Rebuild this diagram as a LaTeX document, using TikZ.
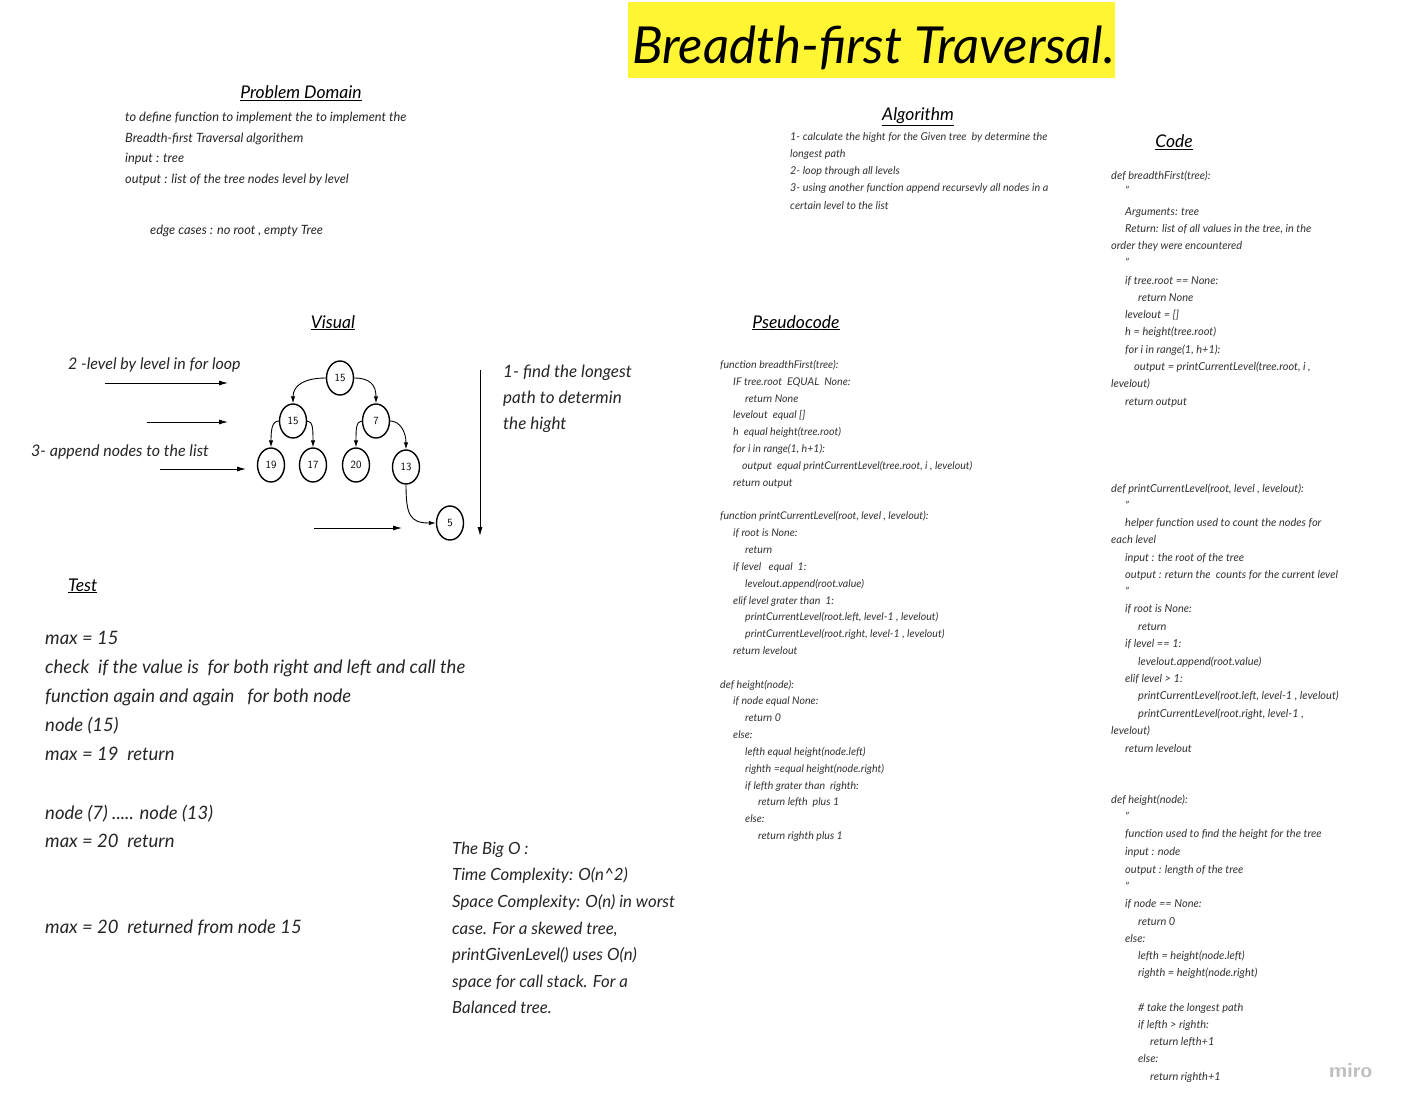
\documentclass[tikz,border=0pt]{standalone}
\usepackage{fontspec}
\setmainfont{Lato}
\usetikzlibrary{arrows.meta,shapes.geometric}
\newcommand\mytl[5]{\node[anchor=base west,inner sep=0pt,#1] (#2) at (#3) {#4#5};}
\begin{document}
\begin{tikzpicture}[x=1pt,y=-1pt,
  hd/.style={font=\fontsize{17.5}{20}\selectfont\itshape,inner sep=0pt,anchor=base},
  cd/.style={font=\fontsize{11}{12}\selectfont\itshape\color{black!80}},
  al/.style={font=\fontsize{10.8}{12}\selectfont\itshape\color{black!80}},
  ps/.style={font=\fontsize{10.6}{12}\selectfont\itshape\color{black!80}},
  pd/.style={font=\fontsize{12.8}{14}\selectfont\itshape\color{black!85}},
  tst/.style={font=\fontsize{18.5}{20}\selectfont\itshape\color{black!85}},
  bo/.style={font=\fontsize{16.8}{18}\selectfont\itshape\color{black!85}},
  vl/.style={font=\fontsize{16}{18}\selectfont\itshape\color{black!85}},
  tn/.style={draw,line width=1.4pt,ellipse,minimum width=27pt,minimum height=34pt,inner sep=0pt,font=\fontsize{11}{12}\selectfont\sffamily},
  ar/.style={line width=0.9pt,-{Latex[length=9pt,width=5pt]}},
  ed/.style={line width=0.9pt,-{Latex[length=7pt,width=4.5pt]}}]
\useasboundingbox (0,0) rectangle (1407,1110);
\fill[white] (0,0) rectangle (1407,1110);
% title
\fill[yellow!80!white] (628,2) rectangle (1115,78);
\node[anchor=base west,inner sep=0pt,font=\fontsize{51}{56}\selectfont\itshape] (title) at (632,64) {Breadth-first Traversal.};
% problem domain
\node[hd] (pdh) at (301,99) {\underline{Problem Domain}};
\mytl{pd}{p1}{125,122}{}{to define function to implement the to implement the}
\mytl{pd}{p2}{125,143}{}{Breadth-first Traversal algorithem}
\mytl{pd}{p3}{125,163}{}{input : tree}
\mytl{pd}{p4}{125,184}{}{output : list of the tree nodes level by level}
\mytl{pd}{p5}{150,234}{}{edge cases : no root , empty Tree}
% algorithm
\node[hd] (alh) at (918,121) {\underline{Algorithm}};
\mytl{al}{a1}{790,141}{}{1- calculate the hight for the Given tree \ by determine the}
\mytl{al}{a2}{790,158}{}{longest path}
\mytl{al}{a3}{790,175}{}{2- loop through all levels}
\mytl{al}{a4}{790,192}{}{3- using another function append recursevly all nodes in a}
\mytl{al}{a5}{790,209}{}{certain level to the list}
% code
\node[hd] (cdh) at (1174,148) {\underline{Code}};
\mytl{cd}{c1}{1111,179}{}{def breadthFirst(tree):}
\mytl{cd}{c2}{1125,195}{}{"}
\mytl{cd}{c3}{1125,215}{}{Arguments: tree}
\mytl{cd}{c4}{1125,232}{}{Return: list of all values in the tree, in the}
\mytl{cd}{c5}{1111,249}{}{order they were encountered}
\mytl{cd}{c6}{1125,266}{}{"}
\mytl{cd}{c7}{1125,284}{}{if tree.root == None:}
\mytl{cd}{c8}{1138,301}{}{return None}
\mytl{cd}{c9}{1125,318}{}{levelout = []}
\mytl{cd}{c10}{1125,335}{}{h = height(tree.root)}
\mytl{cd}{c11}{1125,353}{}{for i in range(1, h+1):}
\mytl{cd}{c12}{1134,370}{}{output = printCurrentLevel(tree.root, i ,}
\mytl{cd}{c13}{1111,387}{}{levelout)}
\mytl{cd}{c14}{1125,405}{}{return output}
\mytl{cd}{d1}{1111,492}{}{def printCurrentLevel(root, level , levelout):}
\mytl{cd}{d2}{1125,509}{}{"}
\mytl{cd}{d3}{1125,526}{}{helper function used to count the nodes for}
\mytl{cd}{d4}{1111,543}{}{each level}
\mytl{cd}{d5}{1125,561}{}{input : the root of the tree}
\mytl{cd}{d6}{1125,578}{}{output : return the \ counts for the current level}
\mytl{cd}{d7}{1125,595}{}{"}
\mytl{cd}{d8}{1125,612}{}{if root is None:}
\mytl{cd}{d9}{1138,630}{}{return}
\mytl{cd}{d10}{1125,647}{}{if level == 1:}
\mytl{cd}{d11}{1138,665}{}{levelout.append(root.value)}
\mytl{cd}{d12}{1125,682}{}{elif level > 1:}
\mytl{cd}{d13}{1138,699}{}{printCurrentLevel(root.left, level-1 , levelout)}
\mytl{cd}{d14}{1138,717}{}{printCurrentLevel(root.right, level-1 ,}
\mytl{cd}{d15}{1111,734}{}{levelout)}
\mytl{cd}{d16}{1125,752}{}{return levelout}
\mytl{cd}{e1}{1111,803}{}{def height(node):}
\mytl{cd}{e2}{1125,820}{}{"}
\mytl{cd}{e3}{1125,837}{}{function used to find the height for the tree}
\mytl{cd}{e4}{1125,855}{}{input : node}
\mytl{cd}{e5}{1125,873}{}{output : length of the tree}
\mytl{cd}{e6}{1125,890}{}{"}
\mytl{cd}{e7}{1125,907}{}{if node == None:}
\mytl{cd}{e8}{1138,925}{}{return 0}
\mytl{cd}{e9}{1125,942}{}{else:}
\mytl{cd}{e10}{1138,959}{}{lefth = height(node.left)}
\mytl{cd}{e11}{1138,976}{}{righth = height(node.right)}
\mytl{cd}{e12}{1138,1011}{}{\# take the longest path}
\mytl{cd}{e13}{1138,1028}{}{if lefth > righth:}
\mytl{cd}{e14}{1150,1045}{}{return lefth+1}
\mytl{cd}{e15}{1138,1062}{}{else:}
\mytl{cd}{e16}{1150,1080}{}{return righth+1}
\node[anchor=base west,inner sep=0pt,font=\fontsize{21}{24}\selectfont\sffamily\bfseries,text=black!25] (miro) at (1329,1077) {miro};
% pseudocode
\node[hd] (psh) at (796,328) {\underline{Pseudocode}};
\mytl{ps}{q1}{720,368}{}{function breadthFirst(tree):}
\mytl{ps}{q2}{733,385}{}{IF tree.root \ EQUAL \ None:}
\mytl{ps}{q3}{745,402}{}{return None}
\mytl{ps}{q4}{733,418}{}{levelout \ equal []}
\mytl{ps}{q5}{733,435}{}{h \ equal height(tree.root)}
\mytl{ps}{q6}{733,452}{}{for i in range(1, h+1):}
\mytl{ps}{q7}{742,469}{}{output \ equal printCurrentLevel(tree.root, i , levelout)}
\mytl{ps}{q8}{733,486}{}{return output}
\mytl{ps}{r1}{720,519}{}{function printCurrentLevel(root, level , levelout):}
\mytl{ps}{r2}{733,536}{}{if root is None:}
\mytl{ps}{r3}{745,553}{}{return}
\mytl{ps}{r4}{733,570}{}{if level \ \ equal \ 1:}
\mytl{ps}{r5}{745,587}{}{levelout.append(root.value)}
\mytl{ps}{r6}{733,604}{}{elif level grater than \ 1:}
\mytl{ps}{r7}{745,620}{}{printCurrentLevel(root.left, level-1 , levelout)}
\mytl{ps}{r8}{745,637}{}{printCurrentLevel(root.right, level-1 , levelout)}
\mytl{ps}{r9}{733,654}{}{return levelout}
\mytl{ps}{s1}{720,688}{}{def height(node):}
\mytl{ps}{s2}{733,704}{}{if node equal None:}
\mytl{ps}{s3}{745,721}{}{return 0}
\mytl{ps}{s4}{733,738}{}{else:}
\mytl{ps}{s5}{745,755}{}{lefth equal height(node.left)}
\mytl{ps}{s6}{745,772}{}{righth =equal height(node.right)}
\mytl{ps}{s7}{745,789}{}{if lefth grater than \ righth:}
\mytl{ps}{s8}{758,805}{}{return lefth \ plus 1}
\mytl{ps}{s9}{745,822}{}{else:}
\mytl{ps}{s10}{758,839}{}{return righth plus 1}
% visual
\node[hd] (vh) at (333,328) {\underline{Visual}};
\node[tn] (n15) at (340,378) {15};
\node[tn] (n15b) at (293,421) {15};
\node[tn] (n7) at (376,421) {7};
\node[tn] (n19) at (271,465) {19};
\node[tn] (n17) at (313,465) {17};
\node[tn] (n20) at (356,465) {20};
\node[tn] (n13) at (406,467) {13};
\node[tn] (n5) at (450,523) {5};
\draw[ed] (n15.west) .. controls (305,378) and (293,385) .. (n15b.north);
\draw[ed] (n15.east) .. controls (370,378) and (376,385) .. (n7.north);
\draw[ed] (n15b.west) .. controls (272,421) and (271,430) .. (n19.north);
\draw[ed] (n15b.east) .. controls (313,421) and (313,430) .. (n17.north);
\draw[ed] (n7.west) .. controls (356,421) and (356,430) .. (n20.north);
\draw[ed] (n7.east) .. controls (400,421) and (406,432) .. (n13.north);
\draw[ed] (n13.south) .. controls (406,515) and (410,523) .. (n5.west);
\mytl{vl}{v1}{68,369}{}{2 -level by level in for loop}
\mytl{vl}{v2}{31,456}{}{3- append nodes to the list}
\coordinate (a1s) at (105,383); \coordinate (a1e) at (228,383);
\coordinate (a2s) at (147,422); \coordinate (a2e) at (228,422);
\coordinate (a3s) at (160,469); \coordinate (a3e) at (246,469);
\coordinate (a4s) at (314,528); \coordinate (a4e) at (402,528);
\coordinate (a5s) at (480,370); \coordinate (a5e) at (480,536);
\draw[ar] (a1s) -- (a1e);
\draw[ar] (a2s) -- (a2e);
\draw[ar] (a3s) -- (a3e);
\draw[ar] (a4s) -- (a4e);
\draw[ar] (a5s) -- (a5e);
\node[anchor=north west,inner sep=0pt,align=left,font=\fontsize{17}{26}\selectfont\itshape\color{black!85}] (v3) at (503,365) {1- find the longest\\path to determin\\the hight};
% test
\node[hd,anchor=base west] (th) at (68,591) {\underline{Test}};
\mytl{tst}{t1}{45,644}{}{max = 15}
\mytl{tst}{t2}{45,673}{}{check \ if the value is \ for both right and left and call the}
\mytl{tst}{t3}{45,702}{}{function again and again \ \ for both node}
\mytl{tst}{t4}{45,731}{}{node (15)}
\mytl{tst}{t5}{45,760}{}{max = 19 \ return}
\mytl{tst}{t6}{45,819}{}{node (7) ..... node (13)}
\mytl{tst}{t7}{45,847}{}{max = 20 \ return}
\mytl{tst}{t8}{45,933}{}{max = 20 \ returned from node 15}
% big O
\mytl{bo}{b1}{452,854}{}{The Big O :}
\mytl{bo}{b2}{452,880}{}{Time Complexity: O(n\textasciicircum 2)}
\mytl{bo}{b3}{452,907}{}{Space Complexity: O(n) in worst}
\mytl{bo}{b4}{452,934}{}{case. For a skewed tree,}
\mytl{bo}{b5}{452,960}{}{printGivenLevel() uses O(n)}
\mytl{bo}{b6}{452,987}{}{space for call stack. For a}
\mytl{bo}{b7}{452,1013}{}{Balanced tree.}
\end{tikzpicture}
\end{document}
